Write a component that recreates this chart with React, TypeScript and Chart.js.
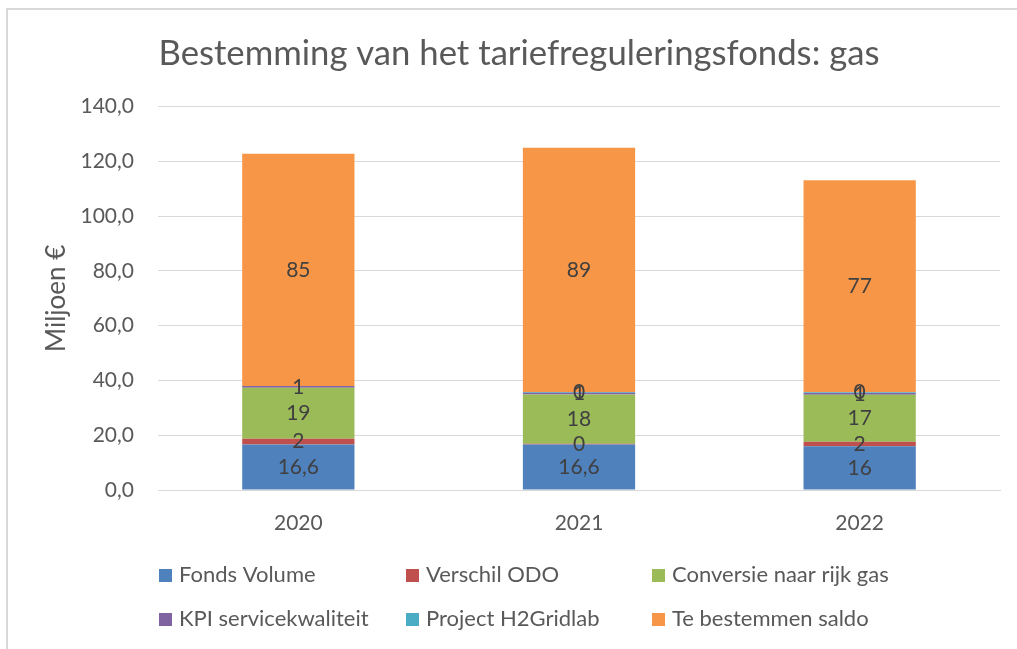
import React, { useEffect, useRef } from "react";
import { Chart, registerables } from "chart.js";

Chart.register(...registerables);

const categories = ["2020", "2021", "2022"];
const fondsVolume = [16.6, 16.6, 16.0];
const verschilODO = [2.1, 0.3, 1.6];
const conversieRijkGas = [18.6, 18.0, 17.2];
const kpiServicekwaliteit = [0.7, 0.6, 0.6];
const projectH2Gridlab = [null, 0.3, 0.3];
const teBestemmenSaldo = [84.8, 89.2, 77.4];

const seriesLabels = [
  "Fonds Volume",
  "Verschil ODO",
  "Conversie naar rijk gas",
  "KPI servicekwaliteit",
  "Project H2Gridlab",
  "Te bestemmen saldo",
];
const seriesColors = ["#4F81BD", "#C0504D", "#9BBB59", "#8064A2", "#4BACC6", "#F79646"];

const chartTitle = "Bestemming van het tariefreguleringsfonds: gas";
const yAxisTitle = "Miljoen €";
const yMin = 0;
const yMax = 140;
const yStep = 20;

const FONT = "Lato";
const TEXT_COLOR = "#595959";

const fmtLabel = (di: number, v: number) => {
  if (di === 0) {
    const r = Math.round(v * 10) / 10;
    return String(r).replace(".", ",");
  }
  return String(Math.round(v));
};

const dataLabelPlugin = {
  id: "dataLabels",
  afterDatasetsDraw(chart: any) {
    const ctx = chart.ctx;
    ctx.save();
    ctx.font = `21px ${FONT}`;
    ctx.fillStyle = "#404040";
    ctx.textAlign = "center";
    ctx.textBaseline = "middle";
    chart.data.datasets.forEach((ds: any, di: number) => {
      const meta = chart.getDatasetMeta(di);
      if (meta.hidden) return;
      meta.data.forEach((el: any, i: number) => {
        const v = ds.data[i];
        if (v == null) return;
        const p = el.getProps(["x", "y", "base"], true);
        ctx.fillText(fmtLabel(di, v), p.x, (p.y + p.base) / 2);
      });
    });
    ctx.restore();
  },
};

const gridLegendPlugin = {
  id: "gridLegend",
  afterDraw(chart: any) {
    const ctx = chart.ctx;
    const cols = [159, 406, 652];
    const rows = [575, 619];
    ctx.save();
    ctx.font = `22px ${FONT}`;
    ctx.textBaseline = "middle";
    ctx.textAlign = "left";
    chart.data.datasets.forEach((ds: any, i: number) => {
      const x = cols[i % 3];
      const y = rows[Math.floor(i / 3)];
      ctx.fillStyle = ds.backgroundColor;
      ctx.fillRect(x, y - 6, 13, 13);
      ctx.fillStyle = TEXT_COLOR;
      ctx.fillText(ds.label, x + 20, y);
    });
    ctx.restore();
  },
};

export default function App() {
  const canvasRef = useRef<HTMLCanvasElement | null>(null);

  useEffect(() => {
    if (!canvasRef.current) return;
    const seriesData = [
      fondsVolume,
      verschilODO,
      conversieRijkGas,
      kpiServicekwaliteit,
      projectH2Gridlab,
      teBestemmenSaldo,
    ];
    const chart = new Chart(canvasRef.current, {
      type: "bar",
      data: {
        labels: categories,
        datasets: seriesData.map((d, i) => ({
          label: seriesLabels[i],
          data: d as any,
          backgroundColor: seriesColors[i],
          borderWidth: 0,
          barPercentage: 0.4,
          categoryPercentage: 1,
        })),
      },
      options: {
        animation: false,
        responsive: false,
        maintainAspectRatio: false,
        layout: { padding: { left: 38, right: 17, top: 0, bottom: 99 } },
        plugins: {
          legend: { display: false },
          tooltip: { enabled: false },
          title: {
            display: true,
            text: chartTitle,
            color: TEXT_COLOR,
            font: { family: FONT, size: 34.7, weight: "normal" },
            padding: { top: 33, bottom: 32 },
          },
        },
        scales: {
          x: {
            stacked: true,
            grid: { display: false },
            border: { display: true, color: "#d9d9d9", width: 1 },
            ticks: {
              color: TEXT_COLOR,
              font: { family: FONT, size: 21 },
              padding: 13,
            },
            afterFit: (s: any) => {
              s.height = 60;
            },
          },
          y: {
            stacked: true,
            min: yMin,
            max: yMax,
            grid: { color: "#d9d9d9", drawTicks: false, lineWidth: 1 },
            border: { display: false },
            ticks: {
              stepSize: yStep,
              color: TEXT_COLOR,
              font: { family: FONT, size: 21 },
              padding: 24,
              callback: (v: any) => Number(v).toFixed(1).replace(".", ","),
            },
            title: {
              display: true,
              text: yAxisTitle,
              color: TEXT_COLOR,
              font: { family: FONT, size: 26 },
              padding: { top: 3, bottom: 0 },
            },
            afterFit: (s: any) => {
              s.width = 120;
            },
          },
        },
      },
      plugins: [dataLabelPlugin, gridLegendPlugin],
    });
    return () => chart.destroy();
  }, []);

  return (
    <div
      style={{
        position: "fixed",
        left: 0,
        top: 0,
        width: 1017,
        height: 649,
        background: "#ffffff",
        overflow: "hidden",
      }}
    >
      <div
        style={{
          position: "absolute",
          left: 6,
          top: 8,
          width: 1030,
          height: 660,
          borderLeft: "2px solid #d9d9d9",
          borderTop: "2px solid #d9d9d9",
          boxSizing: "border-box",
        }}
      />
      <canvas
        ref={canvasRef}
        width={1017}
        height={649}
        style={{ position: "absolute", left: 0, top: 0, width: 1017, height: 649 }}
      />
    </div>
  );
}
